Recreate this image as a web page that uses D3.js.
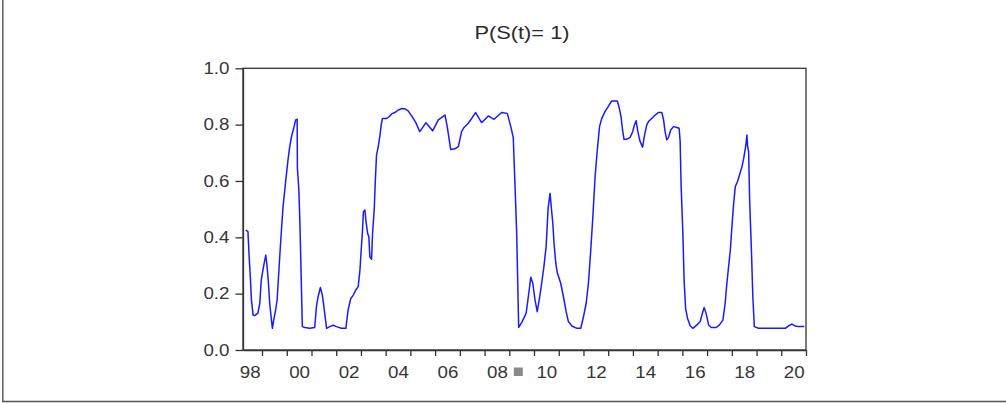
<!DOCTYPE html>
<html>
<head>
<meta charset="utf-8">
<script src="https://cdn.jsdelivr.net/npm/d3@7"></script>
<style>
  html, body { margin: 0; padding: 0; background: #fff; }
  svg { display: block; }
</style>
</head>
<body>
<svg id="chart" width="1006" height="404"></svg>
<script>
// ---- data (decimal year, probability) ----
const title = "P(S(t)= 1)";
const t = [
  1997.34,1997.43,1997.475,1997.53,1997.57,1997.64,1997.70,1997.83,1997.91,1997.97,
  1998.07,1998.15,1998.20,1998.26,1998.31,1998.38,1998.42,1998.47,1998.55,1998.61,
  1998.66,1998.72,1998.78,1998.85,1998.92,1998.99,1999.05,1999.12,1999.19,1999.28,
  1999.36,1999.42,1999.43,1999.49,1999.53,1999.58,1999.63,1999.73,1999.93,2000.13,
  2000.20,2000.27,2000.36,2000.44,2000.51,2000.61,2000.74,2000.88,2001.01,2001.21,
  2001.39,2001.48,2001.59,2001.69,2001.79,2001.89,2001.96,2002.01,2002.06,2002.10,
  2002.16,2002.20,2002.27,2002.32,2002.36,2002.43,2002.47,2002.54,2002.58,2002.63,
  2002.70,2002.77,2002.82,2002.87,2003.04,2003.14,2003.24,2003.37,2003.51,2003.64,
  2003.78,2003.91,2004.05,2004.22,2004.38,2004.63,2004.90,2005.13,2005.40,2005.49,
  2005.63,2005.80,2005.94,2006.07,2006.17,2006.34,2006.48,2006.64,2006.88,2007.15,
  2007.38,2007.69,2007.92,2008.06,2008.16,2008.23,2008.30,2008.34,2008.38,2008.50,
  2008.68,2008.77,2008.87,2008.95,2009.04,2009.13,2009.22,2009.31,2009.40,2009.49,
  2009.57,2009.65,2009.69,2009.76,2009.81,2009.88,2009.94,2010.08,2010.19,2010.30,
  2010.39,2010.53,2010.73,2010.89,2011.00,2011.11,2011.20,2011.29,2011.38,2011.47,
  2011.56,2011.65,2011.74,2011.87,2012.01,2012.14,2012.37,2012.45,2012.52,2012.58,
  2012.64,2012.75,2012.89,2012.99,2013.06,2013.13,2013.20,2013.29,2013.39,2013.47,
  2013.56,2013.63,2013.76,2013.90,2014.03,2014.17,2014.24,2014.30,2014.37,2014.44,
  2014.53,2014.64,2014.78,2014.87,2014.91,2014.95,2015.02,2015.07,2015.13,2015.21,
  2015.32,2015.42,2015.59,2015.72,2015.79,2015.88,2015.96,2016.06,2016.17,2016.37,
  2016.50,2016.64,2016.73,2016.80,2016.87,2016.94,2017.00,2017.07,2017.14,2017.23,
  2017.31,2017.41,2017.48,2017.56,2017.61,2017.64,2017.68,2017.72,2017.79,2017.85,
  2017.91,2018.08,2018.42,2018.83,2019.16,2019.30,2019.43,2019.57,2019.70,2019.93
];
const p = [
  0.426,0.420,0.337,0.254,0.178,0.124,0.122,0.130,0.166,0.250,
  0.300,0.337,0.300,0.237,0.166,0.106,0.077,0.106,0.142,0.178,
  0.250,0.337,0.420,0.509,0.568,0.627,0.675,0.722,0.757,0.787,
  0.817,0.819,0.645,0.568,0.456,0.272,0.083,0.080,0.077,0.080,
  0.154,0.190,0.222,0.195,0.148,0.077,0.083,0.088,0.083,0.077,
  0.077,0.142,0.183,0.195,0.213,0.225,0.284,0.355,0.420,0.491,
  0.497,0.460,0.414,0.402,0.331,0.322,0.414,0.503,0.598,0.692,
  0.722,0.763,0.799,0.822,0.822,0.828,0.838,0.843,0.852,0.857,
  0.856,0.849,0.831,0.807,0.775,0.807,0.778,0.817,0.834,0.793,
  0.712,0.714,0.722,0.775,0.790,0.805,0.822,0.843,0.807,0.831,
  0.819,0.843,0.840,0.793,0.755,0.586,0.414,0.243,0.080,0.097,
  0.130,0.189,0.258,0.237,0.178,0.136,0.183,0.237,0.296,0.367,
  0.503,0.556,0.515,0.450,0.379,0.308,0.275,0.237,0.189,0.136,
  0.101,0.085,0.077,0.077,0.118,0.166,0.237,0.349,0.473,0.615,
  0.710,0.793,0.822,0.846,0.866,0.884,0.884,0.858,0.828,0.781,
  0.748,0.748,0.755,0.775,0.799,0.814,0.775,0.740,0.720,0.763,
  0.799,0.811,0.822,0.834,0.843,0.843,0.817,0.775,0.746,0.755,
  0.781,0.793,0.790,0.787,0.740,0.580,0.414,0.249,0.148,0.112,
  0.085,0.077,0.089,0.101,0.124,0.151,0.130,0.089,0.080,0.080,
  0.089,0.106,0.166,0.237,0.296,0.355,0.432,0.515,0.580,0.598,
  0.621,0.651,0.680,0.722,0.763,0.722,0.704,0.533,0.361,0.189,
  0.083,0.077,0.077,0.077,0.077,0.086,0.092,0.085,0.083,0.083
];
const yearTicks = d3.range(1998, 2021);
const yTicks = [0.0, 0.2, 0.4, 0.6, 0.8, 1.0];
const xLabelYears = [1998, 2000, 2002, 2004, 2006, 2008, 2010, 2012, 2014, 2016, 2018, 2020];

// ---- layout ----
const svg = d3.select("#chart");
const L = 243, R = 806, T = 68.3, B = 350;
const x = d3.scaleLinear().domain([1997.23, 2020.0]).range([L, R]);
const y = d3.scaleLinear().domain([0, 1]).range([B, T]);
const textCol = "#363636";
const axisCol = "#333";
const font = "'Liberation Sans', Arial, sans-serif";
const stretch = 1.15;

// outer frame (left + bottom only)
svg.append("line").attr("x1", 2.8).attr("x2", 2.8).attr("y1", 0).attr("y2", 401.5)
  .attr("stroke", "#555").attr("stroke-width", 1.4);
svg.append("line").attr("x1", 2.1).attr("x2", 1006).attr("y1", 401.5).attr("y2", 401.5)
  .attr("stroke", "#555").attr("stroke-width", 1.4);

// title
svg.append("text").attr("x", 522).attr("y", 38.5)
  .attr("text-anchor", "middle")
  .attr("font-family", font).attr("font-size", 18.5)
  .attr("fill", "#2a2a2a")
  .attr("textLength", 95).attr("lengthAdjust", "spacingAndGlyphs")
  .text(title);

// line
const pts = t.map((d, i) => [d, p[i]]);
svg.append("path")
  .datum(pts)
  .attr("fill", "none")
  .attr("stroke", "#1a1aff")
  .attr("stroke-width", 1.5)
  .attr("stroke-linejoin", "round")
  .attr("d", d3.line().x(d => x(d[0])).y(d => y(d[1])));

// box
svg.append("rect").attr("x", L).attr("y", T).attr("width", R - L).attr("height", B - T)
  .attr("fill", "none").attr("stroke", axisCol).attr("stroke-width", 1.3);

// x axis
const halfYear = (x(1999) - x(1998)) * 0.5;
const gx = svg.append("g").attr("transform", `translate(0,${B})`)
  .call(d3.axisBottom(x).tickValues(yearTicks).tickSize(6).tickSizeOuter(0).tickPadding(10.5)
    .tickFormat(d => xLabelYears.includes(d) ? String(d).slice(2) : ""));
gx.select(".domain").attr("stroke", axisCol).attr("stroke-width", 1.3);
gx.selectAll(".tick line").attr("stroke", axisCol).attr("stroke-width", 1.3);
gx.selectAll(".tick text")
  .attr("font-family", font).attr("font-size", 16.3).attr("fill", textCol)
  .attr("x", 0)
  .attr("transform", `translate(${-halfYear},0) scale(${stretch},1)`);

// small grey marker after "08"
svg.append("rect")
  .attr("x", x(2008) + 4.5).attr("y", 367.5).attr("width", 9).attr("height", 8.5)
  .attr("fill", "#8a8a8a");

// y axis
const gy = svg.append("g").attr("transform", `translate(${L},0)`)
  .call(d3.axisLeft(y).tickValues(yTicks).tickSize(7.5).tickSizeOuter(0).tickPadding(6)
    .tickFormat(d3.format(".1f")));
gy.select(".domain").attr("stroke", axisCol).attr("stroke-width", 1.3);
gy.selectAll(".tick line").attr("stroke", axisCol).attr("stroke-width", 1.3);
gy.selectAll(".tick text")
  .attr("font-family", font).attr("font-size", 16.3).attr("fill", textCol)
  .attr("x", 0)
  .attr("transform", `translate(-13.5,0) scale(${stretch},1)`);
</script>
</body>
</html>
